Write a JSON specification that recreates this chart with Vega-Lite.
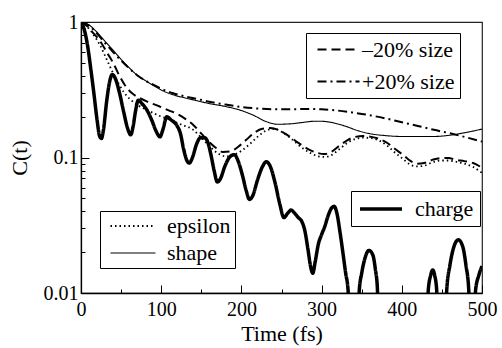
{
  "$schema": "https://vega.github.io/schema/vega-lite/v6.json",
  "width": 401,
  "height": 271,
  "autosize": "none",
  "padding": {"left": 81, "top": 22, "right": 20, "bottom": 55},
  "background": "white",
  "config": {
    "font": "Liberation Serif, Times New Roman, serif",
    "view": {"stroke": "#222", "strokeWidth": 1.2},
    "axis": {"grid": false, "domainColor": "black", "domainWidth": 1.3, "tickColor": "black", "tickWidth": 1, "labelColor": "black", "titleColor": "black", "labelFont": "Liberation Serif, Times New Roman, serif", "titleFont": "Liberation Serif, Times New Roman, serif", "labelFontSize": 20, "titleFontSize": 22, "titleFontWeight": "normal", "labelFlush": false, "labelOverlap": false},
    "legend": {"labelFont": "Liberation Serif, Times New Roman, serif", "labelFontSize": 22, "labelColor": "black", "strokeColor": "black", "fillColor": "white", "cornerRadius": 0, "symbolStrokeColor": "black", "labelLimit": 300}
  },
  "datasets": {
    "curves": [
      {"s": "charge", "t": 0, "c": 1}, {"s": "charge", "t": 4, "c": 0.88}, {"s": "charge", "t": 8, "c": 0.68}, {"s": "charge", "t": 12, "c": 0.46}, {"s": "charge", "t": 16, "c": 0.3}, {"s": "charge", "t": 20, "c": 0.19}, {"s": "charge", "t": 23, "c": 0.145}, {"s": "charge", "t": 25.5, "c": 0.138}, {"s": "charge", "t": 28, "c": 0.16}, {"s": "charge", "t": 32, "c": 0.26}, {"s": "charge", "t": 36, "c": 0.37}, {"s": "charge", "t": 39, "c": 0.41}, {"s": "charge", "t": 43, "c": 0.38}, {"s": "charge", "t": 48, "c": 0.3}, {"s": "charge", "t": 53, "c": 0.22}, {"s": "charge", "t": 58, "c": 0.165}, {"s": "charge", "t": 62, "c": 0.147}, {"s": "charge", "t": 65, "c": 0.17}, {"s": "charge", "t": 68, "c": 0.22}, {"s": "charge", "t": 71.5, "c": 0.265}, {"s": "charge", "t": 76, "c": 0.25}, {"s": "charge", "t": 82, "c": 0.225}, {"s": "charge", "t": 88, "c": 0.19}, {"s": "charge", "t": 94, "c": 0.155}, {"s": "charge", "t": 98.5, "c": 0.142}, {"s": "charge", "t": 102, "c": 0.16}, {"s": "charge", "t": 107, "c": 0.2}, {"s": "charge", "t": 112, "c": 0.19}, {"s": "charge", "t": 119, "c": 0.174}, {"s": "charge", "t": 124, "c": 0.15}, {"s": "charge", "t": 128, "c": 0.115}, {"s": "charge", "t": 132, "c": 0.095}, {"s": "charge", "t": 135, "c": 0.091}, {"s": "charge", "t": 139, "c": 0.1}, {"s": "charge", "t": 144, "c": 0.125}, {"s": "charge", "t": 149, "c": 0.14}, {"s": "charge", "t": 154, "c": 0.14}, {"s": "charge", "t": 158, "c": 0.13}, {"s": "charge", "t": 162, "c": 0.105}, {"s": "charge", "t": 166, "c": 0.08}, {"s": "charge", "t": 170, "c": 0.066}, {"s": "charge", "t": 174, "c": 0.07}, {"s": "charge", "t": 179, "c": 0.085}, {"s": "charge", "t": 185, "c": 0.1}, {"s": "charge", "t": 191, "c": 0.105}, {"s": "charge", "t": 196, "c": 0.094}, {"s": "charge", "t": 201, "c": 0.075}, {"s": "charge", "t": 206, "c": 0.057}, {"s": "charge", "t": 210, "c": 0.049}, {"s": "charge", "t": 214, "c": 0.052}, {"s": "charge", "t": 220, "c": 0.068}, {"s": "charge", "t": 226, "c": 0.085}, {"s": "charge", "t": 231, "c": 0.093}, {"s": "charge", "t": 236, "c": 0.086}, {"s": "charge", "t": 242, "c": 0.065}, {"s": "charge", "t": 248, "c": 0.045}, {"s": "charge", "t": 253, "c": 0.036}, {"s": "charge", "t": 258, "c": 0.039}, {"s": "charge", "t": 262, "c": 0.041}, {"s": "charge", "t": 266, "c": 0.039}, {"s": "charge", "t": 271, "c": 0.036}, {"s": "charge", "t": 275, "c": 0.034}, {"s": "charge", "t": 279, "c": 0.029}, {"s": "charge", "t": 283, "c": 0.021}, {"s": "charge", "t": 286, "c": 0.016}, {"s": "charge", "t": 289, "c": 0.014}, {"s": "charge", "t": 292, "c": 0.017}, {"s": "charge", "t": 296, "c": 0.023}, {"s": "charge", "t": 300, "c": 0.027}, {"s": "charge", "t": 304, "c": 0.031}, {"s": "charge", "t": 308, "c": 0.037}, {"s": "charge", "t": 312, "c": 0.042}, {"s": "charge", "t": 315.5, "c": 0.0436}, {"s": "charge", "t": 319, "c": 0.039}, {"s": "charge", "t": 323, "c": 0.028}, {"s": "charge", "t": 327, "c": 0.019}, {"s": "charge", "t": 330, "c": 0.014}, {"s": "charge", "t": 333, "c": 0.0105}, {"s": "charge", "t": 335, "c": 0.005}, {"s": "charge", "t": 345, "c": 0.005}, {"s": "charge", "t": 347, "c": 0.0105}, {"s": "charge", "t": 350, "c": 0.014}, {"s": "charge", "t": 354, "c": 0.018}, {"s": "charge", "t": 359, "c": 0.0206}, {"s": "charge", "t": 364, "c": 0.019}, {"s": "charge", "t": 367, "c": 0.015}, {"s": "charge", "t": 369.5, "c": 0.011}, {"s": "charge", "t": 371, "c": 0.005}, {"s": "charge", "t": 431, "c": 0.005}, {"s": "charge", "t": 433, "c": 0.0105}, {"s": "charge", "t": 436, "c": 0.0135}, {"s": "charge", "t": 438.5, "c": 0.0148}, {"s": "charge", "t": 441, "c": 0.0135}, {"s": "charge", "t": 443.5, "c": 0.0105}, {"s": "charge", "t": 446, "c": 0.005}, {"s": "charge", "t": 454, "c": 0.005}, {"s": "charge", "t": 456, "c": 0.0105}, {"s": "charge", "t": 460, "c": 0.016}, {"s": "charge", "t": 465, "c": 0.022}, {"s": "charge", "t": 470.5, "c": 0.0247}, {"s": "charge", "t": 476, "c": 0.022}, {"s": "charge", "t": 480, "c": 0.016}, {"s": "charge", "t": 483.5, "c": 0.0105}, {"s": "charge", "t": 485, "c": 0.005}, {"s": "charge", "t": 490, "c": 0.005}, {"s": "charge", "t": 492, "c": 0.0105}, {"s": "charge", "t": 496, "c": 0.0135}, {"s": "charge", "t": 500, "c": 0.0158},

      {"s": "shape", "t": 0, "c": 1}, {"s": "shape", "t": 10, "c": 0.95}, {"s": "shape", "t": 20, "c": 0.84}, {"s": "shape", "t": 30, "c": 0.72}, {"s": "shape", "t": 40, "c": 0.62}, {"s": "shape", "t": 50, "c": 0.53}, {"s": "shape", "t": 60, "c": 0.46}, {"s": "shape", "t": 70, "c": 0.405}, {"s": "shape", "t": 80, "c": 0.37}, {"s": "shape", "t": 90, "c": 0.34}, {"s": "shape", "t": 100, "c": 0.315}, {"s": "shape", "t": 115, "c": 0.29}, {"s": "shape", "t": 130, "c": 0.275}, {"s": "shape", "t": 145, "c": 0.262}, {"s": "shape", "t": 160, "c": 0.25}, {"s": "shape", "t": 180, "c": 0.238}, {"s": "shape", "t": 200, "c": 0.222}, {"s": "shape", "t": 215, "c": 0.205}, {"s": "shape", "t": 230, "c": 0.185}, {"s": "shape", "t": 245, "c": 0.176}, {"s": "shape", "t": 260, "c": 0.177}, {"s": "shape", "t": 275, "c": 0.181}, {"s": "shape", "t": 290, "c": 0.185}, {"s": "shape", "t": 300, "c": 0.185}, {"s": "shape", "t": 315, "c": 0.18}, {"s": "shape", "t": 330, "c": 0.17}, {"s": "shape", "t": 345, "c": 0.158}, {"s": "shape", "t": 360, "c": 0.15}, {"s": "shape", "t": 380, "c": 0.145}, {"s": "shape", "t": 400, "c": 0.143}, {"s": "shape", "t": 420, "c": 0.143}, {"s": "shape", "t": 440, "c": 0.143}, {"s": "shape", "t": 460, "c": 0.146}, {"s": "shape", "t": 480, "c": 0.153}, {"s": "shape", "t": 500, "c": 0.162},

      {"s": "+20% size", "t": 0, "c": 1}, {"s": "+20% size", "t": 10, "c": 0.94}, {"s": "+20% size", "t": 20, "c": 0.82}, {"s": "+20% size", "t": 30, "c": 0.7}, {"s": "+20% size", "t": 40, "c": 0.6}, {"s": "+20% size", "t": 50, "c": 0.52}, {"s": "+20% size", "t": 60, "c": 0.455}, {"s": "+20% size", "t": 70, "c": 0.405}, {"s": "+20% size", "t": 80, "c": 0.37}, {"s": "+20% size", "t": 90, "c": 0.345}, {"s": "+20% size", "t": 100, "c": 0.322}, {"s": "+20% size", "t": 115, "c": 0.298}, {"s": "+20% size", "t": 130, "c": 0.282}, {"s": "+20% size", "t": 145, "c": 0.27}, {"s": "+20% size", "t": 160, "c": 0.258}, {"s": "+20% size", "t": 180, "c": 0.246}, {"s": "+20% size", "t": 200, "c": 0.236}, {"s": "+20% size", "t": 220, "c": 0.23}, {"s": "+20% size", "t": 240, "c": 0.227}, {"s": "+20% size", "t": 260, "c": 0.227}, {"s": "+20% size", "t": 280, "c": 0.228}, {"s": "+20% size", "t": 300, "c": 0.227}, {"s": "+20% size", "t": 320, "c": 0.222}, {"s": "+20% size", "t": 340, "c": 0.214}, {"s": "+20% size", "t": 360, "c": 0.205}, {"s": "+20% size", "t": 380, "c": 0.194}, {"s": "+20% size", "t": 400, "c": 0.182}, {"s": "+20% size", "t": 420, "c": 0.171}, {"s": "+20% size", "t": 440, "c": 0.16}, {"s": "+20% size", "t": 460, "c": 0.151}, {"s": "+20% size", "t": 480, "c": 0.141}, {"s": "+20% size", "t": 500, "c": 0.131},

      {"s": "–20% size", "t": 0, "c": 1}, {"s": "–20% size", "t": 8, "c": 0.93}, {"s": "–20% size", "t": 16, "c": 0.82}, {"s": "–20% size", "t": 24, "c": 0.72}, {"s": "–20% size", "t": 32, "c": 0.6}, {"s": "–20% size", "t": 40, "c": 0.5}, {"s": "–20% size", "t": 48, "c": 0.4}, {"s": "–20% size", "t": 55, "c": 0.34}, {"s": "–20% size", "t": 63, "c": 0.3}, {"s": "–20% size", "t": 73, "c": 0.275}, {"s": "–20% size", "t": 85, "c": 0.255}, {"s": "–20% size", "t": 98, "c": 0.238}, {"s": "–20% size", "t": 110, "c": 0.222}, {"s": "–20% size", "t": 120, "c": 0.21}, {"s": "–20% size", "t": 130, "c": 0.193}, {"s": "–20% size", "t": 140, "c": 0.174}, {"s": "–20% size", "t": 150, "c": 0.15}, {"s": "–20% size", "t": 160, "c": 0.13}, {"s": "–20% size", "t": 168, "c": 0.118}, {"s": "–20% size", "t": 177, "c": 0.11}, {"s": "–20% size", "t": 186, "c": 0.111}, {"s": "–20% size", "t": 196, "c": 0.12}, {"s": "–20% size", "t": 206, "c": 0.135}, {"s": "–20% size", "t": 216, "c": 0.152}, {"s": "–20% size", "t": 226, "c": 0.163}, {"s": "–20% size", "t": 236, "c": 0.165}, {"s": "–20% size", "t": 248, "c": 0.158}, {"s": "–20% size", "t": 260, "c": 0.143}, {"s": "–20% size", "t": 272, "c": 0.127}, {"s": "–20% size", "t": 285, "c": 0.114}, {"s": "–20% size", "t": 295, "c": 0.108}, {"s": "–20% size", "t": 303, "c": 0.106}, {"s": "–20% size", "t": 312, "c": 0.11}, {"s": "–20% size", "t": 322, "c": 0.122}, {"s": "–20% size", "t": 332, "c": 0.134}, {"s": "–20% size", "t": 342, "c": 0.142}, {"s": "–20% size", "t": 352, "c": 0.144}, {"s": "–20% size", "t": 362, "c": 0.142}, {"s": "–20% size", "t": 372, "c": 0.137}, {"s": "–20% size", "t": 382, "c": 0.128}, {"s": "–20% size", "t": 392, "c": 0.115}, {"s": "–20% size", "t": 402, "c": 0.104}, {"s": "–20% size", "t": 410, "c": 0.095}, {"s": "–20% size", "t": 419, "c": 0.09}, {"s": "–20% size", "t": 428, "c": 0.091}, {"s": "–20% size", "t": 438, "c": 0.096}, {"s": "–20% size", "t": 448, "c": 0.099}, {"s": "–20% size", "t": 458, "c": 0.099}, {"s": "–20% size", "t": 468, "c": 0.096}, {"s": "–20% size", "t": 478, "c": 0.094}, {"s": "–20% size", "t": 489, "c": 0.091}, {"s": "–20% size", "t": 500, "c": 0.084},

      {"s": "epsilon", "t": 0, "c": 1}, {"s": "epsilon", "t": 8, "c": 0.92}, {"s": "epsilon", "t": 16, "c": 0.8}, {"s": "epsilon", "t": 24, "c": 0.67}, {"s": "epsilon", "t": 32, "c": 0.53}, {"s": "epsilon", "t": 40, "c": 0.42}, {"s": "epsilon", "t": 47, "c": 0.35}, {"s": "epsilon", "t": 54, "c": 0.3}, {"s": "epsilon", "t": 61, "c": 0.27}, {"s": "epsilon", "t": 70, "c": 0.245}, {"s": "epsilon", "t": 82, "c": 0.225}, {"s": "epsilon", "t": 96, "c": 0.205}, {"s": "epsilon", "t": 111, "c": 0.19}, {"s": "epsilon", "t": 125, "c": 0.175}, {"s": "epsilon", "t": 140, "c": 0.16}, {"s": "epsilon", "t": 150, "c": 0.14}, {"s": "epsilon", "t": 161, "c": 0.12}, {"s": "epsilon", "t": 171, "c": 0.107}, {"s": "epsilon", "t": 181, "c": 0.102}, {"s": "epsilon", "t": 191, "c": 0.105}, {"s": "epsilon", "t": 200, "c": 0.112}, {"s": "epsilon", "t": 210, "c": 0.125}, {"s": "epsilon", "t": 220, "c": 0.142}, {"s": "epsilon", "t": 230, "c": 0.157}, {"s": "epsilon", "t": 240, "c": 0.163}, {"s": "epsilon", "t": 250, "c": 0.155}, {"s": "epsilon", "t": 262, "c": 0.138}, {"s": "epsilon", "t": 274, "c": 0.12}, {"s": "epsilon", "t": 286, "c": 0.108}, {"s": "epsilon", "t": 296, "c": 0.102}, {"s": "epsilon", "t": 304, "c": 0.101}, {"s": "epsilon", "t": 312, "c": 0.104}, {"s": "epsilon", "t": 322, "c": 0.115}, {"s": "epsilon", "t": 332, "c": 0.128}, {"s": "epsilon", "t": 342, "c": 0.137}, {"s": "epsilon", "t": 352, "c": 0.14}, {"s": "epsilon", "t": 362, "c": 0.139}, {"s": "epsilon", "t": 372, "c": 0.133}, {"s": "epsilon", "t": 382, "c": 0.122}, {"s": "epsilon", "t": 392, "c": 0.108}, {"s": "epsilon", "t": 402, "c": 0.097}, {"s": "epsilon", "t": 410, "c": 0.089}, {"s": "epsilon", "t": 419, "c": 0.086}, {"s": "epsilon", "t": 428, "c": 0.087}, {"s": "epsilon", "t": 438, "c": 0.092}, {"s": "epsilon", "t": 448, "c": 0.095}, {"s": "epsilon", "t": 458, "c": 0.095}, {"s": "epsilon", "t": 468, "c": 0.093}, {"s": "epsilon", "t": 478, "c": 0.09}, {"s": "epsilon", "t": 489, "c": 0.085}, {"s": "epsilon", "t": 500, "c": 0.077}
    ]
  },
  "data": {"name": "curves"},
  "encoding": {
    "x": {
      "field": "t", "type": "quantitative",
      "scale": {"domain": [0, 500], "nice": false, "zero": false},
      "axis": {
        "title": "Time (fs)",
        "values": [0, 50, 100, 150, 200, 250, 300, 350, 400, 450, 500],
        "labelExpr": "datum.value % 100 === 0 ? datum.label : ''",
        "tickSize": {"condition": {"test": "datum.value % 100 === 0", "value": -8}, "value": -4},
        "labelPadding": 14,
        "titlePadding": 0
      }
    },
    "y": {
      "field": "c", "type": "quantitative",
      "scale": {"type": "log", "domain": [0.01, 1], "nice": false},
      "axis": {
        "title": "C(t)",
        "values": [0.01, 0.02, 0.03, 0.04, 0.05, 0.06, 0.07, 0.08, 0.09, 0.1, 0.2, 0.3, 0.4, 0.5, 0.6, 0.7, 0.8, 0.9, 1],
        "labelExpr": "datum.value > 0.95 ? '1' : (datum.value > 0.095 && datum.value < 0.105) ? '0.1' : datum.value < 0.0105 ? '0.01' : ''",
        "tickSize": {"condition": {"test": "datum.value > 0.95 || (datum.value > 0.095 && datum.value < 0.105) || datum.value < 0.0105", "value": -8}, "value": -4},
        "labelPadding": 11,
        "titlePadding": 12
      }
    }
  },
  "layer": [
    {
      "transform": [{"filter": "datum.s === '–20% size' || datum.s === '+20% size'"}],
      "mark": {"type": "line", "color": "black", "strokeWidth": 2, "clip": true, "interpolate": "monotone"},
      "encoding": {
        "strokeDash": {
          "field": "s", "type": "nominal",
          "scale": {"domain": ["–20% size", "+20% size"], "range": [[9, 5], [9, 4, 2, 4]]},
          "legend": {"title": null, "orient": "none", "legendX": 225, "legendY": 11, "padding": 5, "rowPadding": 9, "symbolType": "M-2.1,0H2.1", "symbolSize": 400, "symbolStrokeWidth": 2.2, "symbolOffset": 16, "labelOffset": 12}
        }
      }
    },
    {
      "transform": [{"filter": "datum.s === 'epsilon' || datum.s === 'shape'"}],
      "mark": {"type": "line", "color": "black", "clip": true, "interpolate": "monotone"},
      "encoding": {
        "strokeDash": {
          "field": "s", "type": "nominal",
          "scale": {"domain": ["epsilon", "shape"], "range": [[1.5, 3], [1, 0]]},
          "legend": {"title": null, "orient": "none", "legendX": 19, "legendY": 189, "padding": 4, "rowPadding": 5, "symbolType": "M-2.25,0H2.25", "symbolSize": 400, "symbolStrokeWidth": 1.5, "symbolOffset": 18, "labelOffset": 23}
        },
        "strokeWidth": {
          "field": "s", "type": "nominal",
          "scale": {"domain": ["epsilon", "shape"], "range": [1.8, 1.1]},
          "legend": null
        }
      }
    },
    {
      "transform": [{"filter": "datum.s === 'charge'"}],
      "mark": {"type": "line", "color": "black", "strokeWidth": 3.5, "clip": true, "interpolate": "monotone"},
      "encoding": {
        "strokeDash": {
          "field": "s", "type": "nominal",
          "scale": {"domain": ["charge"], "range": [[1, 0]]},
          "legend": {"title": null, "orient": "none", "legendX": 270, "legendY": 169, "padding": 6, "symbolType": "M-2.1,0H2.1", "symbolSize": 400, "symbolStrokeWidth": 3.5, "symbolOffset": 12, "labelOffset": 22}
        }
      }
    }
  ],
  "resolve": {"scale": {"strokeDash": "independent", "strokeWidth": "independent"}, "legend": {"strokeDash": "independent"}}
}
